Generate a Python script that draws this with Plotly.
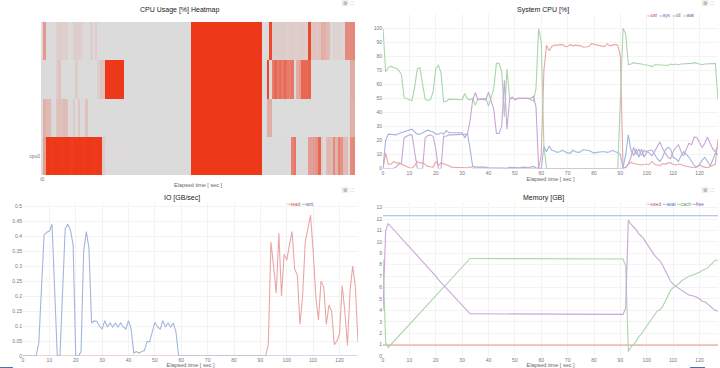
import plotly.graph_objects as go

seconds = list(range(128))
cpu_rows = ["cpu0", "cpu1", "cpu2", "cpu3"]

cpu0 = [5,40,100,100,98,100,100,100,98,100,100,100,97,100,100,100,100,98,100,100,100,97,100,100,100,16,8,5,7,4,8,5,3,7,5,3,8,4,3,6,4,7,3,5,3,4,3,6,3,3,5,3,3,6,3,3,5,3,4,3,3] + [100]*29 + [
        5,3,3,3,4,3,3,5,3,3,4,3,55,62,4,3,3,3,4,40,38,42,45,72,14,3,25,27,24,50,28,55,45,24,24,8,50,52]
cpu2 = [4,3,3,3,5,3,15,20,4,3,3,3,5,4,16,3,3,4,3,8,3,4,3,14,20,20,100,100,100,100,100,100,100,100,3,3,6,4,3,3,7,4,3,3,5,3,3,6,3,4,3,3,6,3,3,4,3,3,5,3,3] + [100]*29 + [
        3,3,92,6,58,72,60,68,58,72,60,56,62,6,32,40,72,72,70,74,1,1,1,1,1,1,1,1,1,1,1,1,1,1,1,1,32,32]
cpu1 = [4,30,25,24,10,6,20,22,20,24,22,6,8,16,6,18,6,5,20,4,6,5,4,3,8,4,4,6,3,3,3,5,3,3,3,3,2,4,2,3,2,2,4,2,2,3,2,2,3,2,2,4,2,2,3,2,2,4,2,2,2] + [100]*29 + [
        3,3,32,32,1,1,1,1,1,1,1,1,2,1,1,1,3,1,1,1,3,1,1,1,2,1,1,1,2,1,1,1,1,1,1,3,30,30]
cpu3 = [6,42,5,4,5,8,12,14,14,13,14,6,8,14,15,14,12,5,8,3,14,5,16,8,5,3,3,4,3,3,3,3,3,5,3,3,3,4,3,3,5,3,3,3,4,3,3,5,3,3,3,4,3,3,3,4,3,3,3,3,3] + [100]*29 + [
        4,3,3,90,14,14,15,14,16,14,13,15,16,14,14,15,16,14,14,90,18,20,18,20,32,30,26,24,8,12,10,12,10,9,50,48,50,52]

user = [0,11,3,3,5,4,4,3,2,1, 0.5,0.3,2,5,4,4,2.5,1.5,1.2,1, 5,2,4,3.5,3,2,1,0.7,0.7,0.7, 0.5,0.5,0.5,1.2,0.2,0.3,0.2,0.2,0.2,0.2,
        0.2,0.2,0.2,0.1,0.1,0.1,0.1,0.1,0.1,0.1, 0.1,0.1,0.1,0.1,0.1,0.1,0.1,0.1,0.1,0, 10,
        70,88,84,87,88,88,88,88.5,87,87, 88.5,87.5,88,88,87.5,86.5,87,87,89,88.5, 88,88,87.5,87,89,87.5,88,88.5,88,80,
        0,0.5,3,4.5,3.5,3,3,2.5,3, 3,3,5,3,2.5,2,3.5,3,4,4, 3,2.5,3,3,2,1.5,1,1,0.5,1, 2.5,1.5,1,0.5,1.5,2.5,3,21]
sys_cpu = [0,20,24.5,24.5,24.5,24,25,25.5,26,26.5, 27.5,28,26,24.5,24.5,25.5,26.5,27.5,26.5,26, 24.5,24.5,25.5,24.5,27,25.5,25.5,25.5,25.5,25.5,
           25.5,22,25,14,1.5,1,1,1.5,1,1, 0.5,0.5,0.2,0.2,0.2,0.2,0.2,0.2,0.8,0.7, 0.8,0.8,0.5,1,0.7,0.7,1,1.5,0.5,0, 0,
           16,12,16,13,12.5,11.5,12,13,12,11, 11,13,12,11.5,12,13.5,13,13,12,11, 11.5,12,12,12,11.5,12,13,12,11.5,10, 0.5,
           10,24,13,9,14,8,14,8, 12,13,13,10,7,5,8,13,15,14, 8,7,5,9,12,10,8,5,2,1, 3,6,8,5,2,6,11,10]
idle = [100,69,72,73,72,71.5,70,67,50.5,49.5, 49,48.5,58,71,72,60,49.5,48.5,49,55, 71,74,68,47.5,48,49.5,49.5,49.5,49.5,49,
        49,53.5,49.5,49,50,45,49.5,49.5,49.5,50, 44.5,50,57,75,75,69,37,71,50,50.5, 49.5,50,50,50,50,50,49,48,57,100, 90,
        16] + [0]*28 + [50,
        100,96,74,74.5,75.5,75,75,74.5,74, 74,73.5,72.5,74,74,74,74,74,73.5,74.5, 74,74.5,74,74.5,74.5,74.5,75,75,75.5,75, 74,74,74.5,74.5,75,75,75,49]
wait = [0,0,0,0,0,1,3,4,22,23, 24,24,12,0,0,0,22,23.5,24,23, 14,0,0,23,23,24,24,24,24,24, 24,24,24.5,34,49,54,49,49.5,49.5,49,
        54.5,49,42,25,25,30,63,28,49,51, 49,50,50,50,50,50,50,51.5,44,0, 0] + [0]*31 + [
        1,3,8,15,10,14,9,13, 12,11,9,12,15,19,14,11,8,7, 12,15,17,12,9,14,18,17,22.5,22, 18,15,18,22.5,18,14,12,16]

io_read = [0]*93 + [0.04,0.38,0.3,0.21,0.41,0.2,0.34,0.32,0.37,0.415,0.29,0.27,0.105,0.2,0.38,0.42,0.47,0.35,0.2,0.12,0.25,0.23,0.105,0.17,0.15,0.038,0.05,0.075,0.235,0.15,0.035,0.22,0.3,0.23,0.045]
io_writ = [0,0,0,0,0,0,0.045,0.25,0.405,0.413,0.417,0.44,0.2,0,0,0.2,0.425,0.44,0.42,0.37,0,0,0.015,0.35,0.415,0.36,0.11,0.117,0.115,0.1,0.09,0.118,0.097,0.11,0.097,0.11,0.097,0.11,0.097,0.09,0.118,0.09,0.01,0.015,0.01,0.015,0.018,0.048,0.048,0.08,0.112,0.097,0.09,0.118,0.097,0.11,0.097,0.11,0.08,0] + [0]*68

mem_used = [0.95]*60 + [1.0]*33 + [0.95]*35
mem_avail = [12.3]*60 + [12.25]*33 + [12.3]*35
mem_cache = [8.5,1.2,0.75,1.0,1.25,1.5,1.75,2.0,2.25,2.5,2.75,3.0,3.25,3.5,3.75,4.0,4.25,4.5,4.75,5.0,5.3,5.55,5.8,6.05,6.3,6.55,6.8,7.05,7.3,7.55,7.8,8.05,8.3,8.55] + [8.55]*30 + [8.5]*28 + [7.9] + [0.4,0.8,1.0,1.3,1.7,1.95,2.3,2.65,3.0,3.35,3.7,3.95,4.05,4.35,4.8,5.3,5.75,6.0,6.15,6.3,6.55,6.7,6.85,7.0,7.05,7.15,7.2,7.35,7.5,7.6,7.7,7.95,8.15,8.4,8.4]
mem_free = [4.0,11.0,11.6,11.35,11.1,10.85,10.6,10.3,10.05,9.8,9.55,9.3,9.05,8.8,8.5,8.25,8.0,7.75,7.5,7.25,7.0,6.7,6.45,6.2,5.95,5.7,5.45,5.2,4.95,4.7,4.45,4.2,3.95,3.7] + [3.7]*30 + [3.65]*28 + [4.2] + [11.9,11.55,11.3,11.05,10.7,10.5,10.2,9.85,9.5,9.1,8.8,8.55,8.35,7.95,7.5,7.0,6.55,6.3,6.1,5.95,5.8,5.65,5.5,5.35,5.3,5.25,5.15,5.0,4.8,4.75,4.6,4.4,4.15,4.0,3.95]

bad = {k: len(v) for k, v in dict(cpu0=cpu0,cpu1=cpu1,cpu2=cpu2,cpu3=cpu3,user=user,sys_cpu=sys_cpu,idle=idle,wait=wait,io_read=io_read,io_writ=io_writ,mem_used=mem_used,mem_avail=mem_avail,mem_cache=mem_cache,mem_free=mem_free).items() if len(v) != 128}
assert not bad, str(bad)

W, H = 720, 368
RED, BLUE, GREEN, PURPLE = "#eaa6a6", "#a2b6dd", "#abd5ab", "#c8a6d8"
KEY_TEXT = {RED: "#c05050", BLUE: "#5070b0", GREEN: "#50a050", PURPLE: "#8050a0"}
FONT = "Liberation Sans"
TICK = dict(family=FONT, size=5, color="#777777")
GRID = "#f3f3f3"

def dom_x(a, b):
    return [a / W, b / W]

def dom_y(top, bottom):
    return [1 - bottom / H, 1 - top / H]

fig = go.Figure()
fig.add_trace(go.Heatmap(z=[cpu0, cpu1, cpu2, cpu3], x=seconds, y=cpu_rows, zmin=0, zmax=100,
                         colorscale=[[0, "#dcdcdc"], [0.08, "#dcd9d9"], [0.5, "#e58a7c"], [1, "#ee381a"]],
                         showscale=False, xaxis="x", yaxis="y"))

def line(y, name, color, axis):
    fig.add_trace(go.Scatter(x=seconds, y=y, name=name, mode="lines", line=dict(color=color, width=1.1),
                             xaxis="x" + axis, yaxis="y" + axis, showlegend=False))

for y, n, c in [(user, "usr", RED), (sys_cpu, "sys", BLUE), (idle, "idl", GREEN), (wait, "wai", PURPLE)]:
    line(y, n, c, "2")
for y, n, c in [(io_read, "read", RED), (io_writ, "writ", BLUE)]:
    line(y, n, c, "3")
for y, n, c in [(mem_used, "used", RED), (mem_avail, "avai", BLUE), (mem_cache, "cach", GREEN), (mem_free, "free", PURPLE)]:
    line(y, n, c, "4")

def xaxis(a, b, anchor):
    return dict(domain=dom_x(a, b), range=[0, 127], anchor=anchor, tickvals=list(range(0, 121, 10)),
                showgrid=True, gridcolor=GRID, gridwidth=1, zeroline=False, showline=False,
                tickfont=TICK, ticklen=0, tickangle=0, automargin=False,
                title=dict(text="Elapsed time [ sec ]", font=dict(family=FONT, size=5.5, color="#666666"), standoff=2))

def yaxis(top, bottom, rng, ticks, labels, anchor):
    return dict(domain=dom_y(top, bottom), range=rng, anchor=anchor, tickvals=ticks, ticktext=labels,
                showgrid=True, gridcolor=GRID, gridwidth=1, zeroline=False, showline=False,
                tickfont=TICK, ticklen=0, automargin=False)

io_ticks = [0, 0.05, 0.1, 0.15, 0.2, 0.25, 0.3, 0.35, 0.4, 0.45, 0.5]
mem_ticks = list(range(0, 14))
cpu_ticks = list(range(0, 101, 10))

def title(text, x, y):
    return dict(text=text, x=x / W, y=1 - y / H, xref="paper", yref="paper", showarrow=False,
                font=dict(family=FONT, size=7, color="#222222"), xanchor="center", yanchor="middle")

def button(x, y, glyph, color):
    return dict(text=glyph, x=x / W, y=1 - y / H, xref="paper", yref="paper", showarrow=False,
                font=dict(family="DejaVu Sans", size=5, color=color), xanchor="center", yanchor="middle")

def box(x0, y0, x1, y1, color):
    return dict(type="rect", xref="paper", yref="paper", x0=x0 / W, x1=x1 / W, y0=1 - y0 / H, y1=1 - y1 / H,
                fillcolor=color, line=dict(width=0), layer="below")

def key_text(text, x, y, color):
    return dict(text=text, x=x / W, y=1 - y / H, xref="paper", yref="paper", showarrow=False,
                font=dict(family=FONT, size=4.6, color=color), xanchor="left", yanchor="middle",
                borderpad=0, borderwidth=0, xshift=-1)

def key_line(x0, x1, y, color):
    return dict(type="line", xref="paper", yref="paper", x0=x0 / W, x1=x1 / W, y0=1 - y / H, y1=1 - y / H,
                line=dict(color=color, width=0.9))

legend_items = [
    ("usr", RED, 647.3, 16), ("sys", BLUE, 659.3, 16), ("idl", GREEN, 671.7, 16), ("wai", PURPLE, 683.3, 16),
    ("read", RED, 287.3, 204.3), ("writ", BLUE, 301.7, 204.3),
    ("used", RED, 647.3, 204.3), ("avai", BLUE, 662.7, 204.3), ("cach", GREEN, 676.7, 204.3), ("free", PURPLE, 691.7, 204.3),
]
toolbar = [(345, 3), (705, 3), (345, 190), (705, 190)]

fig.update_layout(
    width=W, height=H, margin=dict(l=0, r=0, t=0, b=0), paper_bgcolor="white", plot_bgcolor="white",
    xaxis=dict(domain=dom_x(41, 355), anchor="y", tickvals=[0], ticktext=["t0"], tickfont=TICK, ticklen=0,
               showgrid=False, zeroline=False, automargin=False,
               title=dict(text="Elapsed time [ sec ]", font=dict(family=FONT, size=5.5, color="#666666"), standoff=2)),
    yaxis=dict(domain=dom_y(22, 175), anchor="x", tickvals=["cpu0"], tickfont=TICK, ticklen=0,
               showgrid=False, zeroline=False, automargin=False),
    xaxis2=xaxis(383, 718, "y2"),
    yaxis2=yaxis(14, 168.5, [0, 110.2], cpu_ticks, [str(v) for v in cpu_ticks], "x2"),
    xaxis3=xaxis(23, 358, "y3"),
    yaxis3=yaxis(202, 356, [0, 0.514], io_ticks, [f"{v:g}" for v in io_ticks], "x3"),
    xaxis4=xaxis(383, 718, "y4"),
    yaxis4=yaxis(202, 356, [0, 13.5], mem_ticks, [str(v) for v in mem_ticks], "x4"),
    showlegend=False,
    annotations=[title("CPU Usage [%] Heatmap", 179, 10), title("System CPU [%]", 543, 10),
                 title("IO [GB/sec]", 182, 198), title("Memory [GB]", 543, 198)]
                + [button(x, y, "⚙", "#888888") for x, y in toolbar]
                + [button(x + 6.7, y, "⛶", "#8aa0d0") for x, y in toolbar]
                + [key_text(t, x + 5, y, KEY_TEXT[c]) for t, c, x, y in legend_items],
    shapes=[box(0, 367, 13, 368, "#4472b8"), box(690, 367, 705, 368, "#4472b8")]
           + [box(x - 3.3, y - 3, x + 3.3, y + 3, "#eeeeee") for x, y in toolbar]
           + [key_line(x, x + 4.4, y, c) for t, c, x, y in legend_items],
)
fig.write_html("out.html", config={"displayModeBar": False},
               post_script="document.body.style.margin='0';document.documentElement.style.overflow='hidden';")
